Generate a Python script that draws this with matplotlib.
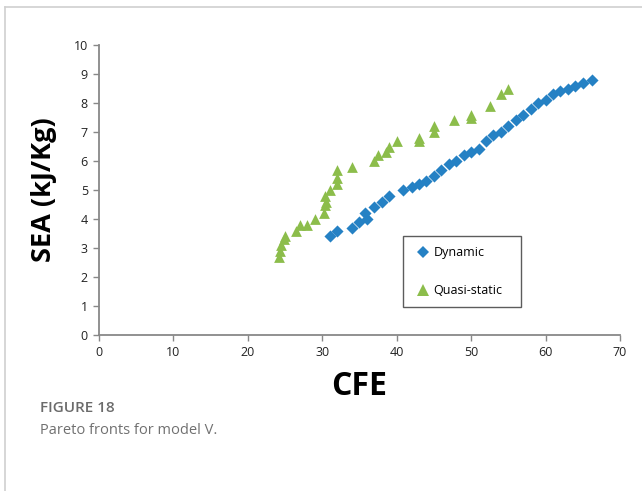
import matplotlib
matplotlib.use("Agg")
import matplotlib.pyplot as plt
from matplotlib.lines import Line2D

# Pareto front, dynamic loading (CFE, SEA)
dyn_cfe = [31.0, 32.0, 34.0, 34.9, 35.8, 36.0, 37.0, 38.0, 39.0, 40.9, 42.0, 43.0,
           44.0, 45.0, 46.0, 47.0, 48.0, 49.0, 50.0, 51.0, 52.0, 53.0, 54.0, 55.0,
           56.0, 57.0, 58.0, 59.0, 60.0, 61.0, 62.0, 63.0, 64.0, 65.0, 66.2]
dyn_sea = [3.4, 3.6, 3.7, 3.9, 4.2, 4.0, 4.4, 4.6, 4.8, 5.0, 5.1, 5.2,
           5.3, 5.5, 5.7, 5.9, 6.0, 6.2, 6.3, 6.4, 6.7, 6.9, 7.0, 7.2,
           7.4, 7.6, 7.8, 8.0, 8.1, 8.3, 8.4, 8.5, 8.6, 8.7, 8.8]

# Pareto front, quasi-static loading (CFE, SEA)
qs_cfe = [24.2, 24.3, 24.5, 24.8, 25.0, 26.5, 27.0, 28.0, 29.0, 30.2, 30.3, 30.5,
          30.3, 31.0, 32.0, 32.0, 32.0, 34.0, 37.0, 37.5, 38.5, 39.0, 40.0, 43.0,
          43.0, 45.0, 45.0, 47.7, 50.0, 50.0, 52.5, 54.0, 55.0]
qs_sea = [2.7, 2.9, 3.1, 3.3, 3.4, 3.6, 3.8, 3.8, 4.0, 4.2, 4.5, 4.6,
          4.8, 5.0, 5.2, 5.4, 5.7, 5.8, 6.0, 6.2, 6.3, 6.5, 6.7, 6.7,
          6.8, 7.0, 7.2, 7.4, 7.5, 7.6, 7.9, 8.3, 8.5]

x_ticks = list(range(0, 71, 10))
y_ticks = list(range(0, 11))

blue = "#2581C4"
green = "#8CBD4B"
axis_grey = "#888888"

fig = plt.figure(figsize=(6.42, 4.91), dpi=100)
W, H = 642, 491

# light frame around the figure panel
fig.add_artist(Line2D([5 / W, 5 / W], [0, 1 - 7 / H], color="#d0d0d0", lw=1.2))
fig.add_artist(Line2D([5 / W, 1], [1 - 7 / H, 1 - 7 / H], color="#d0d0d0", lw=1.2))

ax = fig.add_axes([99 / W, 1 - 335 / H, (620 - 99) / W, (335 - 45) / H])
ax.scatter(dyn_cfe, dyn_sea, marker="D", s=38, color=blue, linewidths=0, zorder=3)
ax.scatter(qs_cfe, qs_sea, marker="^", s=60, color=green, linewidths=0, zorder=3)

ax.set_xlim(0, 70)
ax.set_ylim(0, 10)
ax.set_xticks(x_ticks)
ax.set_yticks(y_ticks)
for s in ("top", "right"):
    ax.spines[s].set_visible(False)
for s in ("left", "bottom"):
    ax.spines[s].set_color(axis_grey)
    ax.spines[s].set_linewidth(1.3)
ax.tick_params(direction="out", length=4, width=1.0, color=axis_grey,
               labelsize=9, labelcolor="#222222", pad=4)
for lab in ax.get_xticklabels() + ax.get_yticklabels():
    lab.set_family("Open Sans")

ax.set_xlabel("CFE", fontsize=23, fontweight="bold", family="Open Sans", labelpad=8)
ax.set_ylabel("SEA (kJ/Kg)", fontsize=19.5, fontweight="bold", family="Open Sans", labelpad=12)

# legend box, stretched to a fixed width
pw, ph = 521.0, 290.0
lx0 = (403 - 99) / pw
lw = (521 - 403) / pw
ltop = (335 - 236) / ph
lh = 0.1
handles = [
    Line2D([], [], marker="D", ls="", color=blue, markersize=6, markeredgewidth=0),
    Line2D([], [], marker="^", ls="", color=green, markersize=8, markeredgewidth=0),
]
leg = ax.legend(handles, ["Dynamic", "Quasi-static"], loc="upper left",
                bbox_to_anchor=(lx0, ltop - lh, lw, lh), mode="expand",
                frameon=True, fancybox=False, edgecolor="#333333",
                prop={"family": "Open Sans", "size": 9}, handletextpad=0.05,
                handlelength=1.6, labelspacing=2.0, borderpad=0.8, borderaxespad=0)
leg.get_frame().set_linewidth(1.0)

fig.text(40 / W, 1 - 408 / H, "FIGURE 18", fontsize=11, color="#6b6b6b",
         family="Open Sans", fontweight="semibold", va="center")
fig.text(40 / W, 1 - 430 / H, "Pareto fronts for model V.", fontsize=10.5,
         color="#707070", family="Open Sans", va="center")

fig.savefig("out.png", dpi=100, facecolor="white")
